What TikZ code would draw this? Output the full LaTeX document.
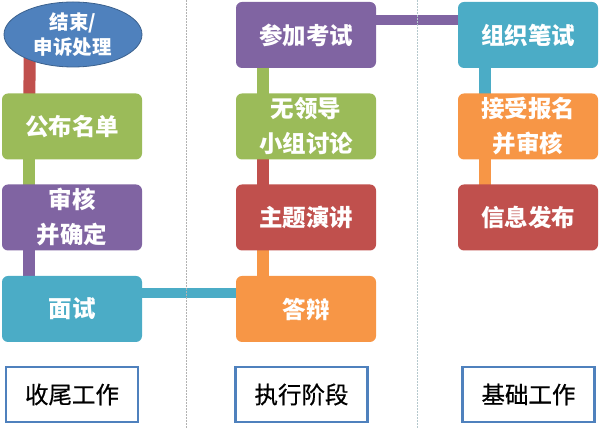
\documentclass[tikz,border=0pt]{standalone}
\usepackage{fontspec}
\setmainfont{Noto Sans CJK SC}
\newfontfamily\labfont[FakeBold=0.6]{Noto Sans CJK SC}
\usetikzlibrary{shapes.geometric,backgrounds}
\definecolor{blu}{HTML}{4F81BD}
\definecolor{rd}{HTML}{C0504D}
\definecolor{grn}{HTML}{9BBB59}
\definecolor{prp}{HTML}{8064A2}
\definecolor{aqua}{HTML}{4BACC6}
\definecolor{orng}{HTML}{F79646}
\begin{document}
\begin{tikzpicture}[x=1pt,y=1pt,
      b/.style={rounded corners=6pt,minimum width=140pt,minimum height=66pt,
                inner sep=0pt,align=center,text=white,
                font=\fontsize{23.5}{35}\selectfont\bfseries},
      lab/.style={draw=blu,line width=2.5pt,fill=white,minimum width=132pt,
                  minimum height=55pt,inner sep=0pt,
                  font=\fontsize{23.5}{26}\labfont},
      bar/.style={line width=12pt},
      hbar/.style={line width=10pt}]
    \useasboundingbox (0,0) rectangle (600,428);
    % closing work
    \node[ellipse,fill=blu,draw=blu!75!black,line width=0.8pt,minimum width=138pt,
          minimum height=65pt,inner sep=0pt,align=center,text=white,
          font=\fontsize{19.5}{25}\selectfont\bfseries] (end) at (73,393.5) {结束/\\申诉处理};
    \node[b,fill=grn] (pub) at (72,301.5) {公布名单};
    \node[b,fill=prp] (chk) at (72,210.5) {审核\\并确定};
    \node[b,fill=aqua] (ms) at (72,119) {面试};
    \node[lab] (l1) at (72,33.5) {收尾工作};
    % execution
    \node[b,fill=prp] (exam) at (306,393) {参加考试};
    \node[b,fill=grn] (disc) at (306,301.5) {无领导\\小组讨论};
    \node[b,fill=rd] (talk) at (306,210.5) {主题演讲};
    \node[b,fill=orng] (db) at (306,119) {答辩};
    \node[lab] (l2) at (301.5,33.5) {执行阶段};
    % groundwork
    \node[b,fill=aqua] (wr) at (528,393) {组织笔试};
    \node[b,fill=orng] (reg) at (528,301.5) {接受报名\\并审核};
    \node[b,fill=rd] (info) at (528,210.5) {信息发布};
    \node[lab] (l3) at (528.5,33.5) {基础工作};
    \begin{scope}[on background layer]
      \draw[bar,rd] ([xshift=-43pt]end.center) -- ([xshift=-43pt]pub.center);
      \draw[bar,grn] ([xshift=-43pt]pub.center) -- ([xshift=-43pt]chk.center);
      \draw[bar,prp] ([xshift=-43pt]chk.center) -- ([xshift=-43pt]ms.center);
      \draw[bar,grn] ([xshift=-43pt]exam.center) -- ([xshift=-43pt]disc.center);
      \draw[bar,rd] ([xshift=-43pt]disc.center) -- ([xshift=-43pt]talk.center);
      \draw[bar,orng] ([xshift=-43pt]talk.center) -- ([xshift=-43pt]db.center);
      \draw[bar,aqua] ([xshift=-43pt]wr.center) -- ([xshift=-43pt]reg.center);
      \draw[bar,orng] ([xshift=-43pt]reg.center) -- ([xshift=-43pt]info.center);
      \draw[hbar,prp] ([yshift=15pt]exam.center) -- ([yshift=15pt]wr.center);
      \draw[hbar,aqua] ([yshift=16pt]ms.center) -- ([yshift=16pt]db.center);
      \draw[gray!60,line width=0.6pt,dash pattern=on 1.5pt off 1.5pt] (186,0) -- (186,428);
      \draw[aqua!40!gray!50,line width=0.8pt,dash pattern=on 1.5pt off 1.5pt] (417,0) -- (417,428);
    \end{scope}
\end{tikzpicture}
\end{document}
